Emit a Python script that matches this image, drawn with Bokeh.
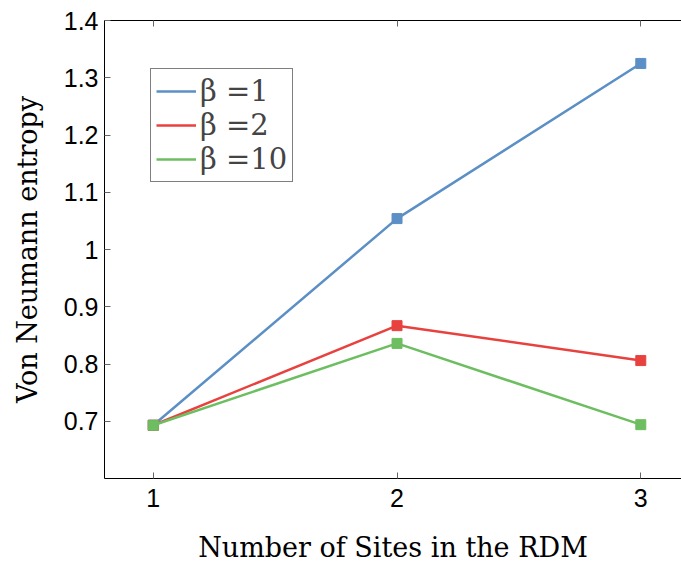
from bokeh.plotting import figure
from bokeh.models import Range1d, FixedTicker, LinearAxis, Legend, LegendItem
from bokeh.embed import file_html
from bokeh.resources import INLINE

# ---- data ----
sites = [1, 2, 3]
beta1 = [0.693, 1.054, 1.325]
beta2 = [0.693, 0.867, 0.806]
beta10 = [0.693, 0.836, 0.694]
series_names = ["β =1", "β =2", "β =10"]
series_colors = ["#5B8FC5", "#E8423F", "#6DBE60"]
x_ticks = [1, 2, 3]
y_ticks = [0.7, 0.8, 0.9, 1.0, 1.1, 1.2, 1.3, 1.4]
y_tick_labels = ["0.7", "0.8", "0.9", "1", "1.1", "1.2", "1.3", "1.4"]

p = figure(frame_width=577, frame_height=458,
           min_border_left=104, min_border_right=0, min_border_top=20, min_border_bottom=85,
           x_range=Range1d(0.8, 3.167), y_range=Range1d(0.6, 1.4),
           output_backend="svg", toolbar_location=None, background_fill_color="white",
           border_fill_color="white")
p.outline_line_color = None
p.xgrid.visible = False
p.ygrid.visible = False

tick_font = "Liberation Sans"
label_font = "DejaVu Serif"

for ax in [p.xaxis[0], p.yaxis[0]]:
    ax.axis_line_color = "black"
    ax.axis_line_width = 1
    ax.major_tick_in = 6
    ax.major_tick_out = 0
    ax.minor_tick_in = 0
    ax.minor_tick_out = 0
    ax.major_tick_line_color = "#666666"
    ax.major_label_text_font = tick_font
    ax.major_label_text_font_size = "25px"
    ax.major_label_text_color = "black"
    ax.axis_label_text_font = label_font
    ax.axis_label_text_font_style = "normal"
    ax.axis_label_text_font_size = "27px"
    ax.axis_label_text_color = "black"

p.xaxis[0].ticker = FixedTicker(ticks=x_ticks)
p.yaxis[0].ticker = FixedTicker(ticks=y_ticks)
p.yaxis[0].major_label_overrides = {t: s for t, s in zip(y_ticks, y_tick_labels)}
p.xaxis[0].major_label_standoff = 10
p.yaxis[0].major_label_standoff = 6
p.xaxis[0].axis_label = "Number of Sites in the RDM"
p.yaxis[0].axis_label = "Von Neumann entropy"
p.xaxis[0].axis_label_standoff = 22
p.yaxis[0].axis_label_standoff = 18

top_axis = LinearAxis(ticker=FixedTicker(ticks=x_ticks), major_tick_in=6, major_tick_out=0,
                      minor_tick_in=0, minor_tick_out=0,
                      major_label_overrides={t: "" for t in x_ticks},
                      major_label_standoff=0, axis_line_color="black",
                      major_tick_line_color="#666666")
p.add_layout(top_axis, "above")

items = []
for ys, name, col in zip([beta1, beta2, beta10], series_names, series_colors):
    r = p.line(sites, ys, line_color=col, line_width=2.5)
    p.scatter(sites, ys, marker="square", size=10, fill_color=col, line_color=col)
    items.append(LegendItem(label=name, renderers=[r]))

legend = Legend(items=items, location=(46, 296), border_line_color="black", border_line_width=1.5,
                label_text_font=label_font, label_text_font_size="29px",
                glyph_width=40, glyph_height=34, label_height=34, spacing=0, padding=5,
                label_standoff=4, margin=0, background_fill_alpha=1)
p.add_layout(legend, "center")

open("out.html", "w").write(file_html(p, INLINE))
